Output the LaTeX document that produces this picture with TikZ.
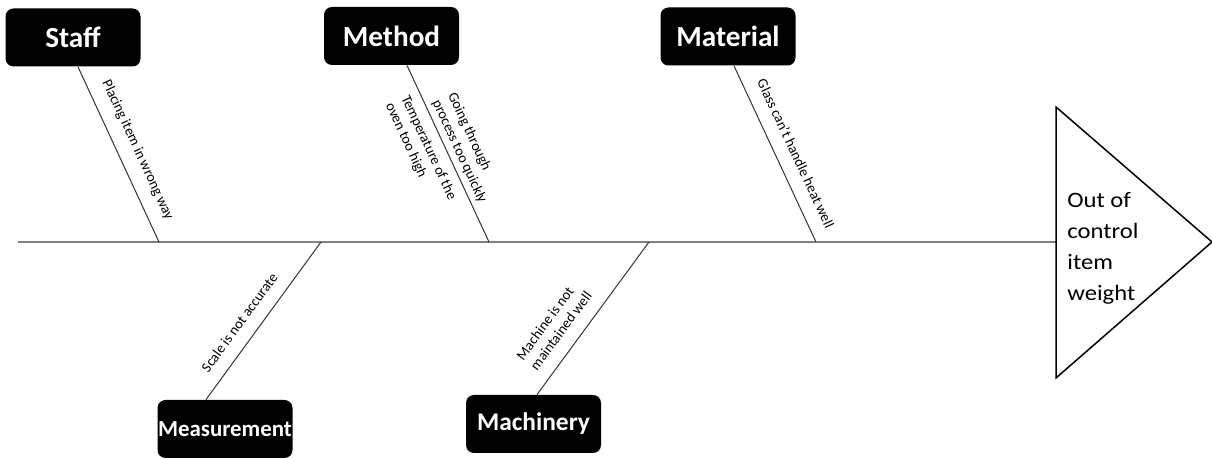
\documentclass[tikz,border=0pt]{standalone}
\usepackage{fontspec}
\setmainfont{Carlito}
\newfontfamily\widefont[FakeStretch=1.12]{Carlito}
\usetikzlibrary{calc}
\begin{document}
\begin{tikzpicture}[x=0.5pt,y=-0.5pt,
  cat/.style={fill=black, text=white, rounded corners=4pt, inner sep=0pt,
    minimum width=67.5pt, minimum height=29pt},
  bigcat/.style={cat, font=\bfseries\fontsize{14.6}{16}\selectfont},
  bone/.style={draw=black!80, line width=0.5pt},
  cause/.style={font=\fontsize{7.2}{8.6}\selectfont, align=left, inner sep=1pt, sloped},
]
\useasboundingbox (0,0) rectangle (1212,459);

% category boxes
\node[bigcat] (staff) at (73,37.5) {Staff};
\node[bigcat] (method) at (391.5,36) {Method};
\node[bigcat] (material) at (728,36.5) {Material};
\node[cat, font=\bfseries\fontsize{11.45}{13}\selectfont] (measure) at (225,429) {Measurement};
\node[cat, font=\bfseries\fontsize{12.7}{14}\selectfont] (machine) at (533.5,424) {Machinery};

% spine and head
\coordinate (tail) at (18,242);
\coordinate (head) at (1056,242);
\draw[draw=black!50, line width=0.75pt] (tail) -- (head);
\draw[line width=0.75pt, line join=miter] (1056,107) -- (1212,242) -- (1056,378) -- cycle;
\node[anchor=west, align=left, inner sep=0pt, font=\widefont\fontsize{11}{15.5}\selectfont] (effect) at (1067,248)
  {Out of\\control\\item\\weight};

% points where the bones meet the spine
\coordinate (j1) at (159,242);
\coordinate (j2) at (489,242);
\coordinate (j3) at (816,242);
\coordinate (j4) at (321,242);
\coordinate (j5) at (649,242);

% upper bones
\draw[bone] ($(staff.south)+(5,0)$) -- node[cause, pos=0.52, above=5.25pt] {Placing item in wrong way} (j1);
\draw[bone] ($(method.south)+(15.5,0)$) --
  node[cause, pos=0.515, above=1.25pt] {Going through\\process too quickly}
  node[cause, pos=0.43, below=3.25pt] {Temperature of the\\oven too high} (j2);
\draw[bone] ($(material.south)+(6,0)$) -- node[cause, pos=0.543, above=5.75pt] {Glass can't handle heat well} (j3);

% lower bones
\draw[bone] ($(measure.north)+(-19,0)$) -- node[cause, pos=0.42, above=5.5pt] {Scale is not accurate} (j4);
\draw[bone] ($(machine.north)+(3.5,0)$) -- node[cause, pos=0.347, above=5.5pt] {Machine is not\\maintained well} (j5);
\end{tikzpicture}
\end{document}
